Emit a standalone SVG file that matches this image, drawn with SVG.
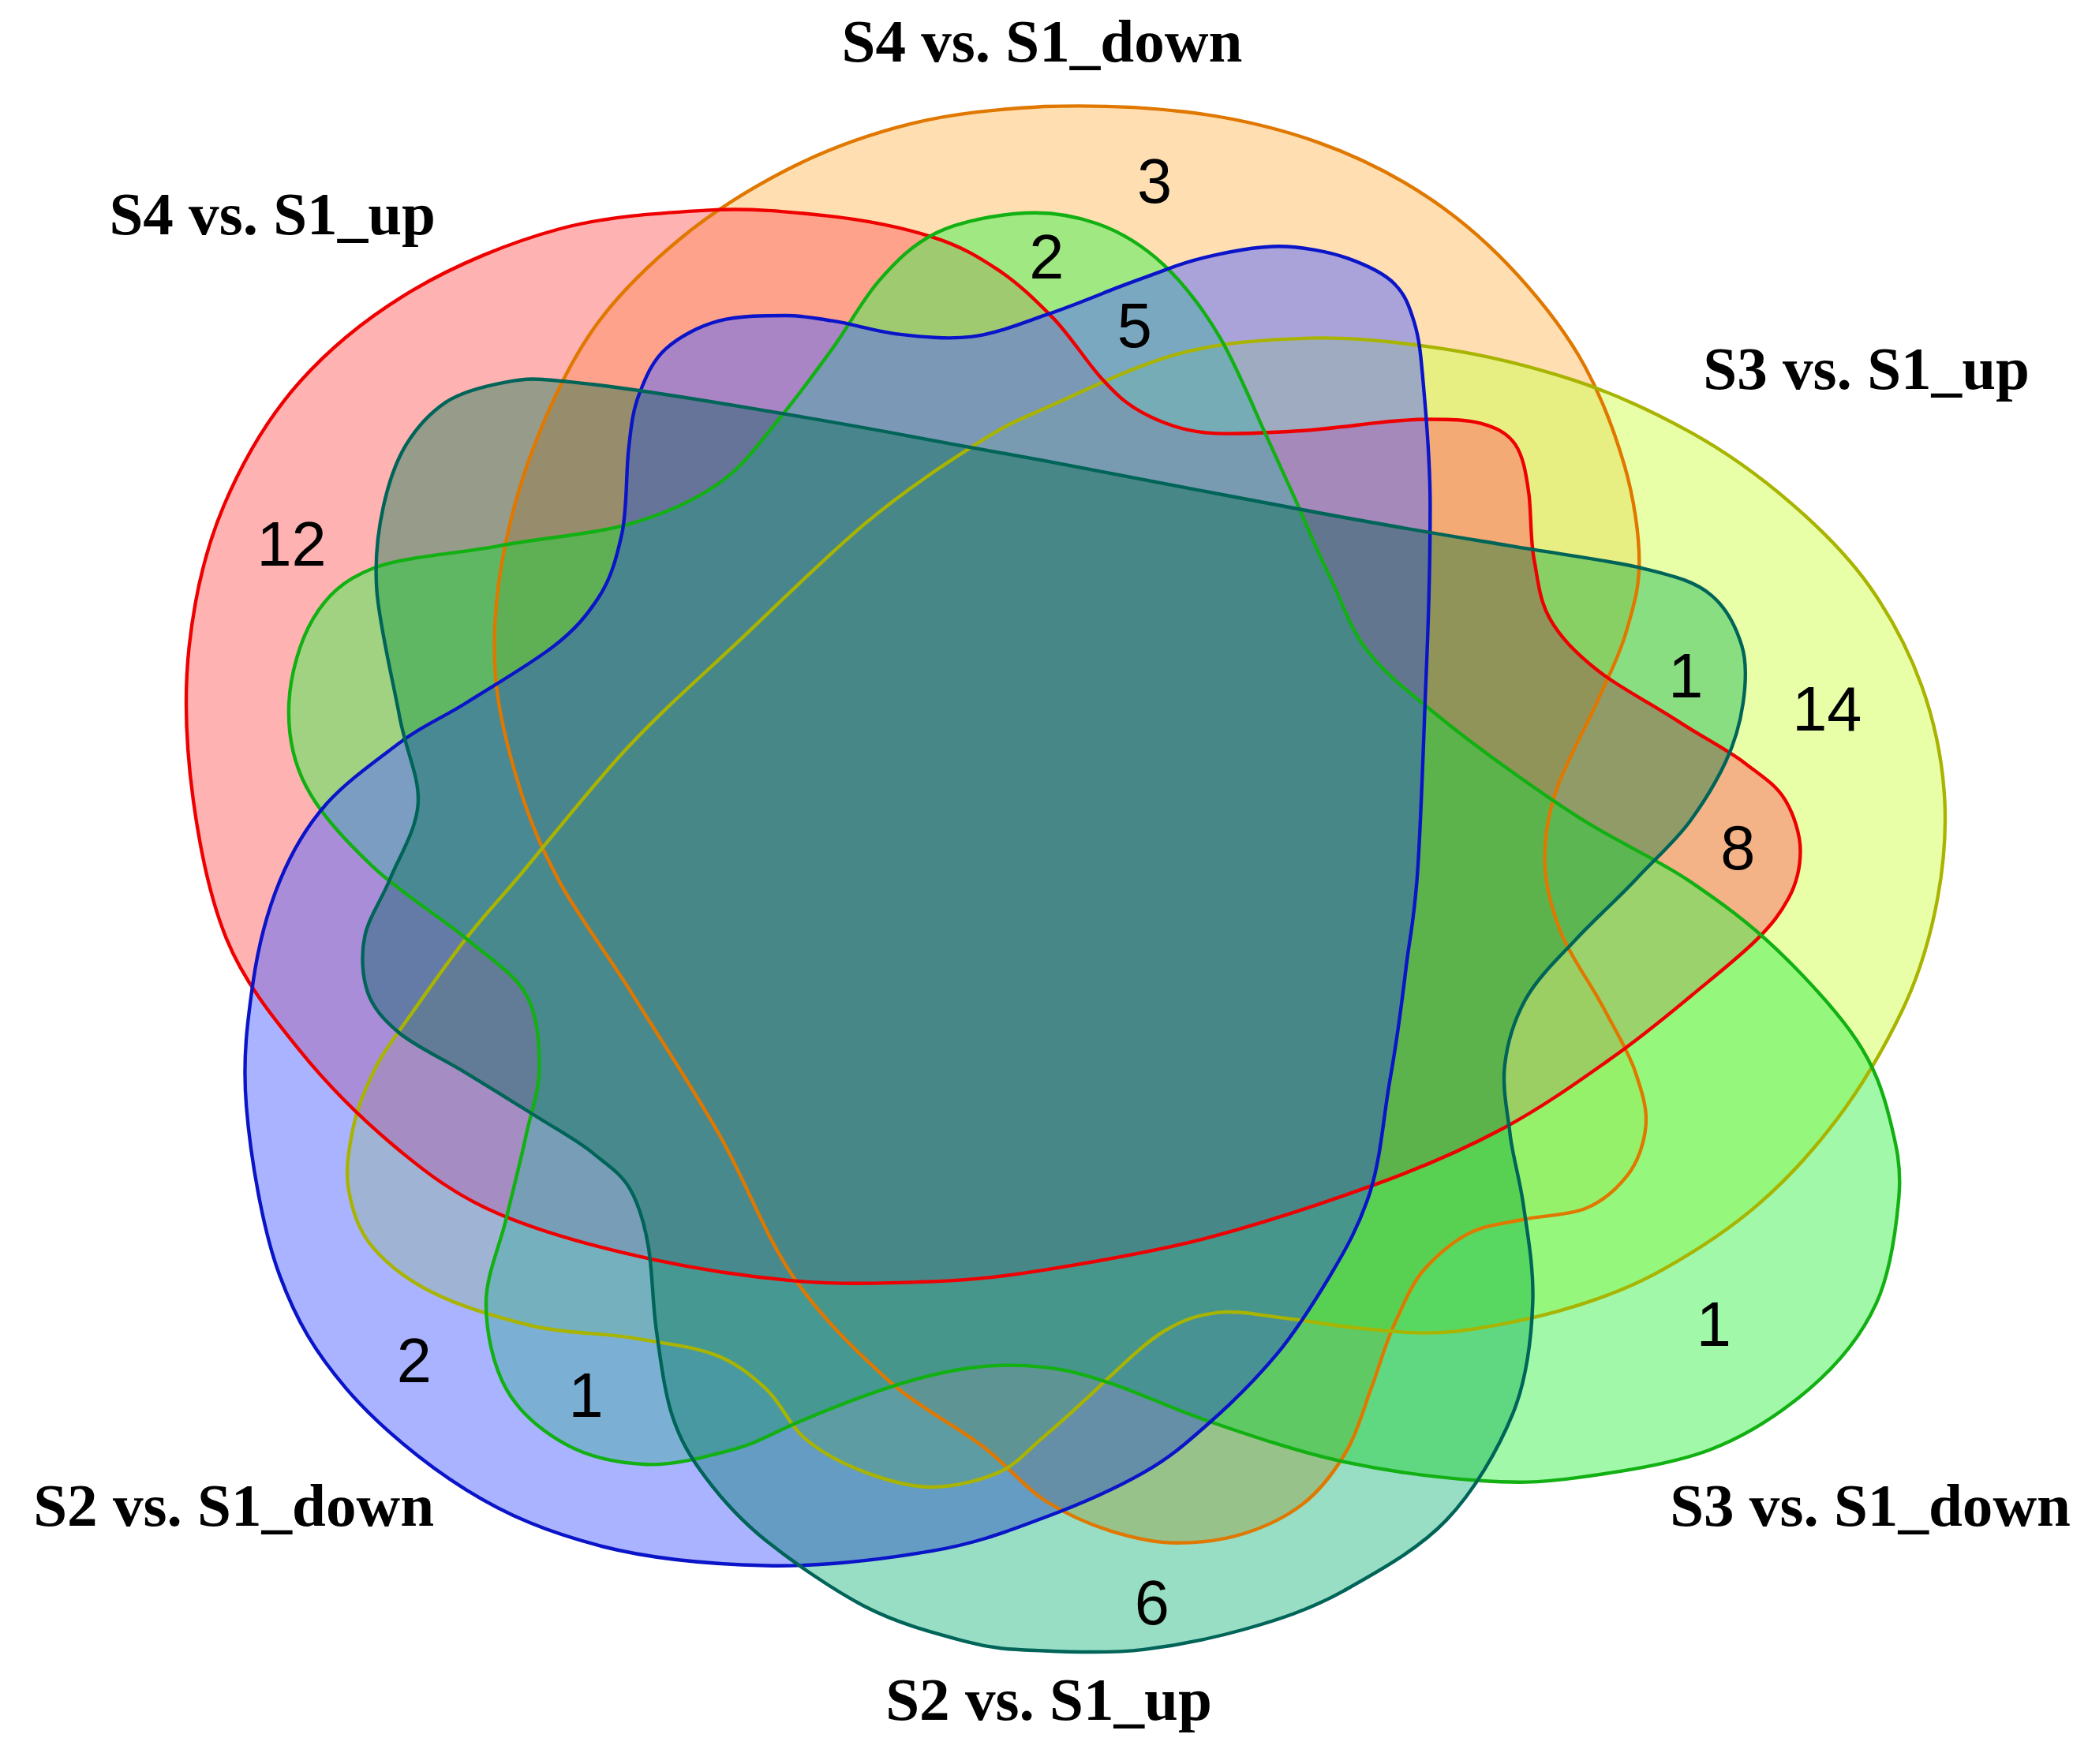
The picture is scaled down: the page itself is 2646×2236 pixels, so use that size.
<svg xmlns="http://www.w3.org/2000/svg" xmlns:xlink="http://www.w3.org/1999/xlink" width="2646" height="2236" viewBox="0 0 2646 2236">
<style>
.fill{fill-opacity:0.5;stroke:none}
.out{fill:none;stroke-width:2.6;stroke-linejoin:round}
.title{font-family:"Liberation Serif","Times New Roman",serif;font-weight:bold;font-size:45.7px;fill:#000}
.num{font-family:"Liberation Sans",Arial,sans-serif;font-size:47px;fill:#000;text-anchor:middle}
</style>
<defs>
<path id="pRed" d="M530,158 C563,156 592,159 620,162 S678,171 700,178 S735,193 750,203 S777,225 790,238 S816,272 827,284 S845,303 858,310 S886,323 905,325 S949,325 970,324 S1013,320 1030,318 S1060,315 1074,315 S1101,315 1112,318 S1132,325 1138,334 S1146,356 1148,370 S1149,404 1152,420 S1156,451 1164,465 S1183,490 1199,503 S1241,529 1259,541 S1297,563 1310,573 S1333,589 1340,600 S1352,627 1352,639 S1349,664 1343,675 S1331,694 1319,706 S1288,733 1270,748 S1234,778 1210,795 S1158,832 1128,848 S1068,877 1032,890 S951,918 910,929 S821,948 784,954 S722,962 690,963 S628,965 595,962 S527,954 490,946 S408,926 375,912 S320,881 295,860 S246,815 225,789 S183,737 170,705 S150,637 145,600 S138,523 142,486 S154,413 168,380 S201,314 225,287 S278,237 310,218 S383,182 420,172 S497,160 530,158 Z"/>
<path id="pOrange" d="M784,80 C818,79 856,80 890,84 S959,96 990,107 S1050,133 1075,150 S1121,186 1140,207 S1177,251 1190,275 S1213,326 1220,350 S1231,402 1231,422 S1227,454 1222,472 S1208,508 1199,528 S1177,571 1170,590 S1160,627 1160,645 S1165,682 1172,700 S1194,738 1203,755 S1223,790 1228,805 S1237,832 1236,845 S1230,873 1222,883 S1203,903 1190,908 S1158,913 1144,916 S1116,920 1104,926 S1080,942 1070,953 S1054,980 1047,995 S1036,1026 1030,1042 S1019,1077 1010,1092 S991,1120 978,1130 S950,1147 934,1152 S901,1159 884,1159 S850,1155 834,1150 S802,1138 786,1128 S760,1104 740,1088 S689,1057 665,1035 S616,989 595,958 S560,887 540,852 S495,779 475,747 S434,688 420,662 S398,617 390,591 S374,535 372,507 S372,450 377,422 S389,367 400,338 S427,274 445,248 S486,200 510,180 S561,143 590,128 S652,101 684,93 S750,82 784,80 Z"/>
<path id="pYellow" d="M784,307 C809,296 851,275 884,266 S951,255 984,254 S1051,257 1084,262 S1149,275 1180,285 S1243,310 1270,325 S1323,359 1345,378 S1389,419 1405,442 S1434,490 1443,515 S1458,568 1460,595 S1460,648 1455,675 S1441,733 1428,760 S1398,816 1380,840 S1342,886 1320,905 S1273,940 1250,953 S1206,974 1180,982 S1120,997 1094,1000 S1046,1000 1024,998 S982,992 964,990 S929,984 914,986 S889,991 874,1000 S839,1029 824,1043 S796,1069 784,1079 S764,1100 750,1106 S717,1117 700,1117 S666,1112 650,1106 S618,1092 605,1081 S587,1054 575,1043 S552,1023 535,1017 S498,1009 475,1005 S425,1002 400,996 S345,981 325,971 S291,950 280,937 S265,910 262,895 S262,863 265,848 S273,821 280,806 S298,777 310,760 S336,723 350,705 S375,676 395,652 S444,591 470,563 S520,514 550,486 S619,419 650,393 S712,347 734,333 S759,318 784,307 Z"/>
<path id="pGreen" d="M770,160 C790,159 807,162 824,168 S859,185 874,199 S905,234 917,255 S940,303 949,323 S966,360 974,378 S990,416 999,434 S1013,471 1027,489 S1058,520 1084,541 S1153,593 1184,613 S1244,645 1269,662 S1313,693 1334,713 S1380,760 1394,781 S1414,820 1419,840 S1428,876 1426,899 S1420,955 1409,979 S1380,1025 1359,1043 S1313,1078 1284,1089 S1213,1106 1184,1110 S1138,1114 1109,1112 S1042,1105 1009,1098 S938,1078 909,1068 S855,1046 834,1039 S802,1029 784,1027 S745,1025 725,1028 S686,1036 665,1043 S619,1060 600,1068 S569,1084 550,1089 S506,1101 485,1100 S443,1095 425,1085 S390,1061 380,1043 S365,1000 365,979 S375,937 380,916 S391,872 395,853 S405,820 405,802 S404,763 395,747 S369,721 350,705 S300,670 280,651 S241,612 230,591 S216,549 217,528 S225,482 235,465 S257,436 280,427 S343,416 375,410 S448,401 475,393 S523,375 540,363 S566,338 580,321 S612,280 625,262 S647,226 660,211 S685,184 703,175 S750,161 770,160 Z"/>
<path id="pBlue" d="M784,237 C802,231 819,224 834,218 S864,207 877,202 S901,194 915,191 S944,185 960,185 S998,189 1012,194 S1039,205 1047,213 S1058,229 1062,242 S1067,267 1069,290 S1074,344 1074,380 S1073,460 1071,507 S1067,626 1064,662 S1059,701 1056,726 S1049,782 1044,810 S1037,870 1029,895 S1011,938 999,958 S974,999 959,1017 S926,1053 909,1068 S880,1094 859,1106 S811,1130 784,1140 S735,1159 700,1165 S617,1177 575,1176 S488,1171 450,1161 S382,1139 350,1119 S283,1070 260,1043 S223,993 210,958 S188,868 185,831 S186,766 190,738 S201,684 210,662 S230,621 245,604 S283,571 300,558 S331,540 350,528 S398,499 415,486 S441,462 450,448 S463,419 467,401 S470,356 472,338 S475,309 480,296 S490,271 500,262 S525,245 540,241 S576,237 590,237 S611,239 625,241 S658,249 675,251 S711,255 729,253 S767,243 784,237 Z"/>
<path id="pTeal" d="M784,346 C835,356 926,373 984,384 S1092,403 1134,410 S1209,421 1234,427 S1273,437 1285,447 S1304,472 1308,485 S1311,514 1309,528 S1303,557 1296,572 S1280,602 1269,617 S1243,645 1229,660 S1198,690 1184,705 S1155,734 1146,750 S1132,783 1130,800 S1132,835 1134,852 S1141,884 1144,905 S1152,953 1151,979 S1147,1035 1136,1062 S1107,1120 1086,1142 S1034,1181 1009,1195 S959,1217 934,1224 S884,1236 859,1239 S806,1241 784,1240 S747,1239 725,1233 S675,1220 650,1207 S595,1173 575,1157 S542,1126 530,1110 S511,1082 505,1064 S496,1021 493,1000 S490,955 487,937 S480,905 473,893 S456,875 445,866 S421,850 405,840 S368,817 350,806 S312,786 300,776 S280,757 276,745 S271,717 274,703 S286,677 293,660 S313,623 314,603 S305,565 300,538 S285,470 283,444 S284,398 288,380 S297,347 305,334 S323,310 335,302 S364,290 380,287 S400,284 430,287 S518,299 560,306 S643,320 680,327 S733,337 784,346 Z"/>
</defs>
<g transform="scale(1.6875)">
<rect x="0" y="0" width="1568" height="1325" fill="#ffffff"/>
<g id="set-s4-s1-down">
<use xlink:href="#pOrange" class="fill" fill="#FFBF66"/>
<text class="title" x="632" y="46">S4 vs. S1_down</text>
</g>
<g id="set-s3-s1-up">
<use xlink:href="#pYellow" class="fill" fill="#D1FF51"/>
<text class="title" x="1279" y="292">S3 vs. S1_up</text>
</g>
<g id="set-s4-s1-up">
<use xlink:href="#pRed" class="fill" fill="#FF6666"/>
<text class="title" x="82" y="176">S4 vs. S1_up</text>
</g>
<g id="set-s3-s1-down">
<use xlink:href="#pGreen" class="fill" fill="#41F151"/>
<text class="title" x="1254" y="1146">S3 vs. S1_down</text>
</g>
<g id="set-s2-s1-down">
<use xlink:href="#pBlue" class="fill" fill="#5567FF"/>
<text class="title" x="25" y="1146">S2 vs. S1_down</text>
</g>
<g id="set-s2-s1-up">
<use xlink:href="#pTeal" fill="#97DEC4" style="mix-blend-mode:multiply"/>
<text class="title" x="665" y="1292">S2 vs. S1_up</text>
</g>
<g id="outlines">
<use xlink:href="#pOrange" class="out" stroke="#E07800"/>
<use xlink:href="#pYellow" class="out" stroke="#A8B400"/>
<use xlink:href="#pRed" class="out" stroke="#EE0000"/>
<use xlink:href="#pGreen" class="out" stroke="#12B012"/>
<use xlink:href="#pBlue" class="out" stroke="#0A14C8"/>
<use xlink:href="#pTeal" class="out" stroke="#006458"/>
</g>
<g id="counts">
<text class="num" x="219" y="425">12</text>
<text class="num" x="867" y="152">3</text>
<text class="num" x="786" y="209">2</text>
<text class="num" x="852" y="261">5</text>
<text class="num" x="1266" y="524">1</text>
<text class="num" x="1372" y="549">14</text>
<text class="num" x="1305" y="653">8</text>
<text class="num" x="1287" y="1011">1</text>
<text class="num" x="865" y="1220">6</text>
<text class="num" x="311" y="1038">2</text>
<text class="num" x="440" y="1064">1</text>
</g>
</g>
</svg>
